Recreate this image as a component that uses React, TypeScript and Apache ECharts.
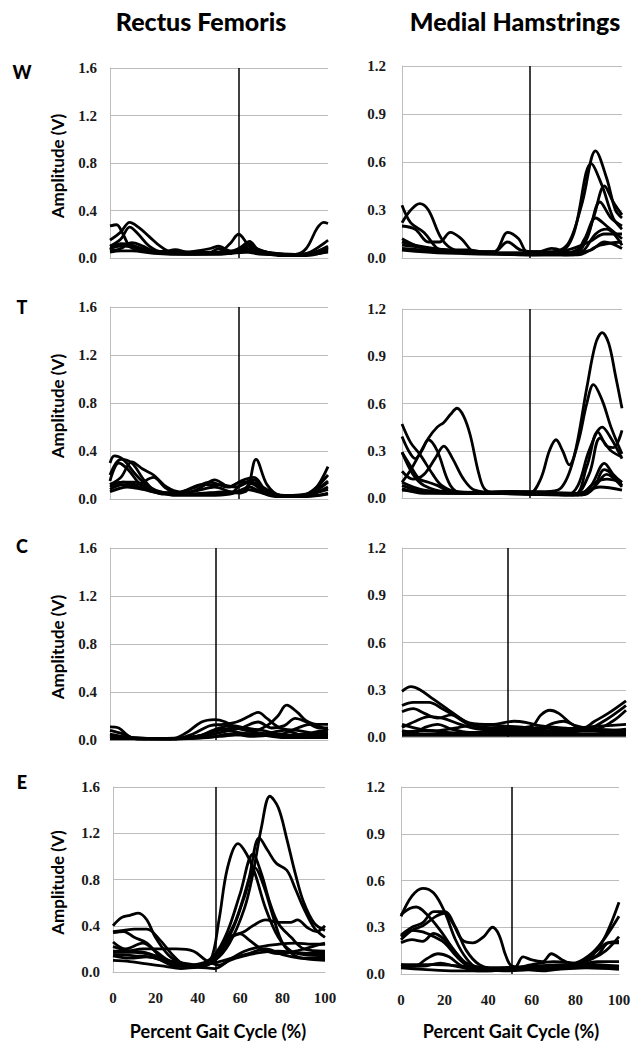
import React, { useEffect, useRef } from "react";
import * as echarts from "echarts";

type Pt = [number, number];

// Column titles, row labels, axis text
const COLUMNS = ["Rectus Femoris", "Medial Hamstrings"];
const ROWS = ["W", "T", "C", "E"];
const Y_NAME = "Amplitude (V)";
const X_NAME = "Percent Gait Cycle (%)";
const X_TICKS = [0, 20, 40, 60, 80, 100];
const RF_TICKS = [0, 0.4, 0.8, 1.2, 1.6];
const MH_TICKS = [0, 0.3, 0.6, 0.9, 1.2];

// Stance / swing divider (% gait cycle) per row
const RF_STANCE = [59, 59, 48.5, 48.6];
const MH_STANCE = [58, 58, 47.4, 50.8];

// ---------- Rectus Femoris ----------
const RF_W: Pt[][] = [
  [[0,0.27],[3,0.28],[6,0.2],[9,0.1],[14,0.06],[25,0.05],[40,0.05],[55,0.05],[62,0.05],[70,0.03],[85,0.03],[90,0.08],[95,0.25],[98,0.3],[100,0.29]],
  [[0,0.15],[5,0.22],[9,0.3],[13,0.26],[18,0.18],[23,0.1],[28,0.05],[40,0.04],[50,0.05],[55,0.12],[59,0.2],[63,0.12],[67,0.05],[75,0.03],[85,0.02],[95,0.05],[100,0.08]],
  [[0,0.1],[5,0.16],[9,0.26],[13,0.2],[18,0.1],[24,0.05],[30,0.07],[35,0.05],[45,0.04],[50,0.08],[55,0.04],[60,0.08],[64,0.12],[68,0.05],[75,0.03],[85,0.02],[92,0.05],[100,0.15]],
  [[0,0.08],[5,0.1],[10,0.1],[15,0.08],[20,0.06],[30,0.05],[45,0.04],[55,0.04],[60,0.06],[64,0.1],[69,0.06],[75,0.04],[85,0.03],[92,0.04],[100,0.1]],
  [[0,0.07],[5,0.12],[10,0.11],[15,0.07],[20,0.05],[30,0.04],[50,0.04],[55,0.05],[60,0.08],[65,0.07],[70,0.04],[80,0.02],[90,0.03],[95,0.05],[100,0.07]],
  [[0,0.05],[5,0.06],[10,0.06],[20,0.04],[35,0.03],[55,0.04],[62,0.05],[66,0.06],[72,0.04],[82,0.02],[92,0.03],[100,0.05]],
  [[0,0.1],[5,0.11],[10,0.09],[15,0.06],[25,0.04],[45,0.03],[55,0.04],[60,0.09],[64,0.14],[68,0.07],[75,0.04],[85,0.03],[95,0.05],[100,0.09]],
  [[0,0.06],[5,0.08],[10,0.13],[15,0.1],[20,0.06],[30,0.05],[35,0.05],[40,0.06],[46,0.08],[50,0.1],[55,0.06],[62,0.06],[66,0.08],[72,0.05],[80,0.02],[90,0.02],[100,0.06]],
];
const RF_T: Pt[][] = [
  [[0,0.3],[2,0.36],[6,0.33],[12,0.2],[18,0.1],[25,0.05],[35,0.04],[45,0.05],[55,0.05],[62,0.06],[67,0.33],[72,0.12],[78,0.03],[88,0.02],[94,0.08],[100,0.27]],
  [[0,0.2],[5,0.33],[10,0.3],[16,0.15],[22,0.06],[35,0.05],[42,0.1],[48,0.16],[55,0.1],[60,0.15],[66,0.18],[72,0.06],[80,0.02],[90,0.04],[100,0.2]],
  [[0,0.12],[5,0.18],[10,0.31],[15,0.25],[20,0.2],[26,0.1],[32,0.06],[42,0.12],[50,0.12],[58,0.1],[64,0.14],[70,0.08],[80,0.03],[92,0.05],[100,0.14]],
  [[0,0.15],[4,0.3],[8,0.25],[14,0.12],[20,0.06],[30,0.05],[40,0.07],[48,0.1],[56,0.06],[60,0.12],[66,0.16],[72,0.05],[82,0.02],[92,0.04],[100,0.1]],
  [[0,0.1],[6,0.14],[12,0.12],[20,0.18],[25,0.1],[30,0.05],[38,0.09],[46,0.14],[54,0.1],[60,0.14],[66,0.12],[72,0.04],[84,0.02],[100,0.08]],
  [[0,0.06],[8,0.1],[15,0.08],[22,0.05],[35,0.04],[50,0.04],[58,0.06],[64,0.1],[70,0.05],[80,0.02],[95,0.03],[100,0.05]],
  [[0,0.08],[6,0.12],[14,0.1],[22,0.06],[30,0.03],[45,0.03],[55,0.04],[62,0.08],[68,0.06],[76,0.02],[90,0.02],[100,0.04]],
  [[0,0.12],[6,0.14],[12,0.14],[18,0.08],[25,0.04],[40,0.04],[52,0.06],[60,0.05],[65,0.14],[70,0.1],[78,0.03],[88,0.03],[96,0.1],[100,0.15]],
];
const RF_C: Pt[][] = [
  [[0,0.11],[4,0.1],[8,0.04],[12,0.01],[28,0.01],[35,0.06],[42,0.15],[48,0.17],[53,0.15],[58,0.1],[65,0.07],[72,0.05],[80,0.04],[90,0.05],[100,0.06]],
  [[0,0.08],[6,0.05],[12,0.01],[30,0.01],[38,0.05],[46,0.12],[52,0.13],[58,0.15],[64,0.2],[68,0.23],[72,0.18],[78,0.1],[86,0.08],[95,0.05],[100,0.04]],
  [[0,0.04],[10,0.02],[30,0.01],[40,0.03],[50,0.08],[58,0.1],[66,0.08],[72,0.12],[77,0.2],[81,0.29],[86,0.23],[90,0.16],[95,0.13],[100,0.13]],
  [[0,0.03],[20,0.01],[40,0.02],[50,0.06],[60,0.1],[68,0.15],[74,0.1],[80,0.12],[85,0.18],[90,0.15],[96,0.1],[100,0.1]],
  [[0,0.05],[10,0.02],[30,0.01],[42,0.04],[50,0.1],[56,0.12],[62,0.1],[70,0.08],[78,0.05],[86,0.1],[92,0.13],[100,0.08]],
  [[0,0.02],[20,0.01],[45,0.02],[55,0.05],[65,0.03],[75,0.04],[85,0.03],[95,0.07],[100,0.08]],
  [[0,0.03],[15,0.01],[40,0.03],[50,0.09],[60,0.06],[70,0.05],[80,0.08],[88,0.04],[100,0.03]],
  [[0,0.01],[30,0.01],[50,0.03],[65,0.05],[80,0.02],[100,0.02]],
];
const RF_E: Pt[][] = [
  [[0,0.15],[10,0.14],[20,0.12],[30,0.05],[40,0.06],[48,0.1],[55,0.25],[62,0.55],[66,0.85],[70,1.25],[74,1.52],[78,1.42],[82,1.15],[86,0.85],[90,0.6],[95,0.42],[100,0.36]],
  [[0,0.22],[8,0.18],[15,0.17],[25,0.1],[35,0.06],[45,0.1],[52,0.25],[58,0.45],[64,0.8],[69,1.16],[73,1.05],[77,0.94],[82,0.88],[86,0.72],[90,0.55],[95,0.38],[100,0.3]],
  [[0,0.17],[10,0.17],[20,0.14],[30,0.08],[40,0.05],[46,0.1],[50,0.45],[54,0.9],[59,1.11],[63,1.02],[67,0.85],[72,0.55],[78,0.3],[84,0.18],[90,0.15],[100,0.14]],
  [[0,0.34],[5,0.35],[10,0.3],[16,0.25],[24,0.1],[30,0.05],[40,0.05],[48,0.15],[54,0.35],[60,0.68],[66,1.02],[70,0.85],[74,0.6],[78,0.42],[84,0.3],[90,0.2],[100,0.18]],
  [[0,0.26],[6,0.2],[14,0.25],[20,0.18],[28,0.08],[38,0.04],[48,0.1],[56,0.35],[62,0.65],[67,0.9],[71,0.75],[76,0.45],[80,0.25],[85,0.15],[90,0.12],[100,0.12]],
  [[0,0.4],[4,0.47],[8,0.49],[12,0.51],[16,0.45],[20,0.3],[26,0.15],[32,0.08],[42,0.05],[50,0.15],[56,0.3],[62,0.35],[66,0.4],[72,0.45],[78,0.43],[84,0.43],[87,0.45],[92,0.38],[96,0.35],[100,0.4]],
  [[0,0.35],[5,0.36],[10,0.37],[16,0.37],[22,0.28],[28,0.15],[34,0.06],[40,0.05],[48,0.12],[55,0.3],[60,0.33],[64,0.28],[70,0.2],[78,0.16],[86,0.18],[94,0.22],[100,0.25]],
  [[0,0.18],[6,0.18],[14,0.2],[22,0.2],[30,0.2],[38,0.18],[44,0.1],[50,0.06],[56,0.12],[62,0.18],[70,0.22],[78,0.24],[86,0.25],[94,0.24],[100,0.24]],
  [[0,0.1],[8,0.09],[16,0.07],[24,0.05],[32,0.03],[40,0.04],[48,0.03],[55,0.1],[62,0.14],[70,0.17],[78,0.18],[86,0.17],[94,0.16],[100,0.16]],
  [[0,0.14],[8,0.12],[16,0.13],[24,0.1],[32,0.08],[40,0.06],[48,0.08],[56,0.12],[64,0.16],[72,0.2],[80,0.15],[88,0.12],[100,0.1]],
];

// ---------- Medial Hamstrings ----------
const MH_W: Pt[][] = [
  [[0,0.06],[20,0.04],[40,0.03],[60,0.03],[70,0.04],[76,0.1],[82,0.35],[88,0.67],[93,0.5],[97,0.3],[100,0.25]],
  [[0,0.08],[20,0.05],[40,0.03],[60,0.03],[72,0.04],[78,0.15],[86,0.59],[91,0.45],[96,0.25],[100,0.18]],
  [[0,0.1],[15,0.05],[40,0.03],[60,0.02],[75,0.03],[82,0.08],[87,0.25],[92,0.45],[96,0.35],[100,0.27]],
  [[0,0.05],[20,0.03],[60,0.02],[78,0.02],[84,0.12],[90,0.35],[95,0.25],[100,0.2]],
  [[0,0.22],[4,0.3],[8,0.34],[12,0.3],[18,0.12],[24,0.05],[40,0.03],[60,0.03],[78,0.03],[83,0.12],[88,0.25],[93,0.2],[100,0.12]],
  [[0,0.33],[4,0.22],[10,0.16],[16,0.06],[20,0.04],[40,0.03],[62,0.03],[75,0.02],[82,0.04],[88,0.15],[93,0.18],[100,0.08]],
  [[0,0.2],[6,0.18],[12,0.1],[17,0.1],[22,0.16],[27,0.12],[33,0.04],[42,0.04],[48,0.16],[53,0.12],[57,0.04],[65,0.04],[75,0.05],[85,0.1],[92,0.15],[100,0.15]],
  [[0,0.1],[10,0.07],[20,0.05],[30,0.04],[42,0.04],[48,0.1],[54,0.05],[62,0.04],[68,0.06],[78,0.03],[86,0.05],[92,0.1],[100,0.06]],
  [[0,0.12],[10,0.06],[20,0.05],[30,0.05],[40,0.03],[60,0.02],[80,0.02],[90,0.08],[100,0.1]],
];
const MH_T: Pt[][] = [
  [[0,0.05],[20,0.03],[40,0.03],[55,0.04],[65,0.04],[72,0.06],[78,0.25],[84,0.7],[88,0.98],[91,1.05],[94,0.98],[97,0.78],[100,0.57]],
  [[0,0.1],[10,0.05],[30,0.03],[50,0.04],[58,0.03],[63,0.12],[67,0.3],[70,0.37],[73,0.3],[76,0.21],[80,0.35],[84,0.6],[87,0.72],[91,0.62],[95,0.45],[100,0.28]],
  [[0,0.08],[10,0.04],[30,0.03],[55,0.03],[75,0.02],[80,0.08],[85,0.3],[91,0.45],[95,0.38],[100,0.25]],
  [[0,0.29],[5,0.15],[10,0.08],[20,0.04],[50,0.03],[78,0.02],[84,0.2],[89,0.42],[93,0.33],[96,0.32],[100,0.43]],
  [[0,0.47],[4,0.35],[8,0.28],[14,0.15],[18,0.08],[25,0.04],[50,0.03],[78,0.02],[85,0.15],[90,0.38],[95,0.3],[100,0.26]],
  [[0,0.39],[3,0.3],[6,0.25],[9,0.3],[12,0.37],[16,0.3],[22,0.08],[28,0.03],[50,0.04],[80,0.02],[86,0.08],[92,0.22],[96,0.15],[100,0.1]],
  [[0,0.1],[4,0.18],[8,0.28],[12,0.38],[16,0.45],[19,0.48],[22,0.53],[25,0.57],[28,0.52],[31,0.4],[35,0.15],[38,0.05],[45,0.03],[60,0.03],[82,0.02],[87,0.06],[92,0.18],[100,0.08]],
  [[0,0.17],[5,0.12],[10,0.15],[15,0.25],[19,0.33],[23,0.25],[28,0.12],[33,0.05],[45,0.03],[82,0.02],[88,0.08],[93,0.15],[100,0.07]],
  [[0,0.29],[4,0.2],[8,0.12],[12,0.1],[16,0.08],[22,0.04],[40,0.03],[80,0.02],[88,0.1],[93,0.12],[100,0.1]],
  [[0,0.06],[10,0.03],[50,0.04],[80,0.03],[90,0.07],[100,0.05]],
];
const MH_C: Pt[][] = [
  [[0,0.29],[4,0.32],[8,0.3],[14,0.24],[20,0.18],[26,0.12],[30,0.09],[40,0.08],[50,0.1],[56,0.09],[62,0.07],[70,0.06],[80,0.05],[86,0.1],[92,0.15],[100,0.23]],
  [[0,0.2],[5,0.22],[12,0.22],[18,0.18],[24,0.13],[30,0.08],[40,0.06],[50,0.06],[58,0.07],[62,0.14],[66,0.17],[70,0.15],[76,0.08],[82,0.05],[90,0.1],[100,0.2]],
  [[0,0.16],[5,0.18],[10,0.15],[16,0.12],[22,0.14],[28,0.1],[35,0.06],[50,0.05],[60,0.05],[68,0.09],[72,0.1],[78,0.07],[86,0.05],[94,0.1],[100,0.17]],
  [[0,0.06],[6,0.1],[12,0.13],[18,0.12],[26,0.08],[34,0.05],[50,0.04],[60,0.06],[70,0.05],[80,0.06],[90,0.07],[100,0.08]],
  [[0,0.04],[6,0.03],[10,0.06],[16,0.08],[22,0.05],[30,0.03],[45,0.03],[60,0.03],[75,0.04],[90,0.04],[100,0.05]],
  [[0,0.02],[20,0.02],[50,0.02],[80,0.02],[100,0.02]],
  [[0,0.08],[8,0.05],[15,0.04],[25,0.06],[35,0.08],[45,0.07],[55,0.06],[65,0.04],[75,0.03],[85,0.05],[100,0.04]],
  [[0,0.03],[10,0.04],[20,0.03],[35,0.02],[50,0.05],[60,0.04],[70,0.02],[85,0.02],[95,0.03],[100,0.03]],
  [[0,0.01],[30,0.01],[60,0.01],[100,0.01]],
];
const MH_E: Pt[][] = [
  [[0,0.37],[5,0.5],[10,0.55],[15,0.52],[20,0.4],[25,0.22],[30,0.1],[35,0.04],[45,0.03],[55,0.03],[65,0.02],[75,0.04],[82,0.06],[88,0.12],[94,0.25],[100,0.46]],
  [[0,0.38],[4,0.42],[7,0.43],[12,0.38],[18,0.28],[24,0.16],[30,0.06],[36,0.03],[50,0.03],[60,0.04],[70,0.05],[80,0.07],[88,0.14],[94,0.24],[100,0.37]],
  [[0,0.25],[5,0.3],[10,0.33],[15,0.4],[20,0.4],[25,0.3],[30,0.15],[36,0.06],[45,0.03],[55,0.03],[70,0.04],[80,0.06],[88,0.1],[94,0.15],[100,0.24]],
  [[0,0.22],[5,0.28],[10,0.31],[16,0.37],[20,0.39],[24,0.32],[28,0.22],[33,0.2],[38,0.24],[42,0.3],[45,0.25],[48,0.12],[51,0.05],[60,0.04],[70,0.04],[80,0.06],[90,0.12],[95,0.2],[100,0.21]],
  [[0,0.24],[5,0.28],[10,0.27],[15,0.24],[20,0.2],[25,0.12],[30,0.06],[40,0.03],[52,0.04],[56,0.11],[60,0.09],[65,0.08],[69,0.13],[74,0.09],[80,0.06],[90,0.08],[100,0.08]],
  [[0,0.2],[5,0.22],[10,0.21],[15,0.26],[20,0.22],[25,0.14],[30,0.07],[40,0.03],[50,0.02],[60,0.03],[70,0.05],[80,0.06],[90,0.15],[95,0.2],[100,0.2]],
  [[0,0.06],[6,0.05],[12,0.1],[17,0.13],[22,0.11],[28,0.05],[35,0.02],[50,0.03],[60,0.06],[70,0.08],[80,0.07],[90,0.06],[100,0.05]],
  [[0,0.05],[10,0.05],[18,0.07],[25,0.05],[35,0.03],[50,0.04],[65,0.05],[80,0.05],[100,0.04]],
  [[0,0.04],[10,0.03],[25,0.02],[40,0.02],[55,0.04],[70,0.03],[85,0.04],[100,0.03]],
  [[0,0.06],[15,0.06],[30,0.05],[45,0.04],[60,0.05],[75,0.06],[90,0.05],[100,0.05]],
];

const RF_DATA = [RF_W, RF_T, RF_C, RF_E];
const MH_DATA = [MH_W, MH_T, MH_C, MH_E];

// Layout (pixel boxes of each plot area), [row][col]
const BOXES = [
  [{ l: 110, t: 68, w: 218, h: 190 }, { l: 402, t: 66, w: 220, h: 192 }],
  [{ l: 110, t: 307, w: 218, h: 192 }, { l: 402, t: 309, w: 220, h: 189 }],
  [{ l: 110, t: 548, w: 218, h: 192 }, { l: 402, t: 548, w: 224, h: 189 }],
  [{ l: 113, t: 787, w: 212, h: 185 }, { l: 401, t: 787, w: 218, h: 187 }],
];
const LETTER_Y = [72, 307, 546, 782];

const SANS = "Lato, 'Open Sans', sans-serif";
const SERIF = "'Liberation Serif', 'DejaVu Serif', serif";

export default function App() {
  const ref = useRef<HTMLDivElement>(null);
  useEffect(() => {
    if (!ref.current) return;
    const chart = echarts.init(ref.current, null, { renderer: "svg" });
    const grids: any[] = [];
    const xAxes: any[] = [];
    const yAxes: any[] = [];
    const series: any[] = [];
    const graphic: any[] = [];

    ROWS.forEach((rowName, r) => {
      [0, 1].forEach((c) => {
        const idx = r * 2 + c;
        const b = BOXES[r][c];
        const ticks = c === 0 ? RF_TICKS : MH_TICKS;
        const data = c === 0 ? RF_DATA[r] : MH_DATA[r];
        const stance = c === 0 ? RF_STANCE[r] : MH_STANCE[r];
        const bottom = r === ROWS.length - 1;
        grids.push({ left: b.l, top: b.t, width: b.w, height: b.h, containLabel: false });
        xAxes.push({
          type: "value",
          gridIndex: idx,
          min: X_TICKS[0],
          max: X_TICKS[X_TICKS.length - 1],
          interval: X_TICKS[1] - X_TICKS[0],
          axisLine: { show: true, lineStyle: { color: "#bdbdbd", width: 1 } },
          axisTick: { show: false },
          splitLine: { show: false },
          axisLabel: {
            show: bottom,
            margin: 18,
            fontFamily: SERIF,
            fontWeight: "bold",
            fontSize: 15,
            color: "#1a1a1a",
          },
        });
        yAxes.push({
          type: "value",
          gridIndex: idx,
          min: ticks[0],
          max: ticks[ticks.length - 1],
          interval: ticks[1] - ticks[0],
          axisLine: { show: true, lineStyle: { color: "#bdbdbd", width: 1 } },
          axisTick: { show: false },
          splitLine: { show: true, lineStyle: { color: "#bdbdbd", width: 1 } },
          axisLabel: {
            margin: c === 0 ? 13 : 16,
            fontFamily: SERIF,
            fontWeight: "bold",
            fontSize: 15,
            color: "#1a1a1a",
            formatter: (v: number) => v.toFixed(1),
          },
        });
        data.forEach((curve, k) => {
          const s: any = {
            type: "line",
            xAxisIndex: idx,
            yAxisIndex: idx,
            data: curve,
            showSymbol: false,
            symbol: "none",
            smooth: 0.35,
            lineStyle: { color: "#000", width: 2.8 },
            z: 3,
          };
          if (k === 0) {
            s.markLine = {
              silent: true,
              symbol: ["none", "none"],
              label: { show: false },
              lineStyle: { color: "#000", width: 1.5, type: "solid" },
              data: [{ xAxis: stance }],
            };
          }
          series.push(s);
        });
      });

      const lb = BOXES[r][0];
      graphic.push({
        type: "text",
        x: 22,
        y: LETTER_Y[r],
        style: { text: rowName, fontFamily: SANS, fontWeight: 900, fontSize: 18, fill: "#000", align: "center", verticalAlign: "middle" },
      });
      graphic.push({
        type: "text",
        x: 57,
        y: lb.t + lb.h / 2 + 3,
        rotation: Math.PI / 2,
        style: { text: Y_NAME, fontFamily: SANS, fontWeight: "bold", fontSize: 17, fill: "#000", align: "center", verticalAlign: "middle" },
      });
    });

    graphic.push({
      type: "text", x: 201, y: 21,
      style: { text: COLUMNS[0], fontFamily: SANS, fontWeight: 900, fontSize: 25, fill: "#000", align: "center", verticalAlign: "middle" },
    });
    graphic.push({
      type: "text", x: 515, y: 21,
      style: { text: COLUMNS[1], fontFamily: SANS, fontWeight: 900, fontSize: 25, fill: "#000", align: "center", verticalAlign: "middle" },
    });
    graphic.push({
      type: "text", x: 218, y: 1031,
      style: { text: X_NAME, fontFamily: SANS, fontWeight: "bold", fontSize: 18, fill: "#000", align: "center", verticalAlign: "middle" },
    });
    graphic.push({
      type: "text", x: 511, y: 1031,
      style: { text: X_NAME, fontFamily: SANS, fontWeight: "bold", fontSize: 18, fill: "#000", align: "center", verticalAlign: "middle" },
    });

    chart.setOption({
      animation: false,
      backgroundColor: "#fff",
      grid: grids,
      xAxis: xAxes,
      yAxis: yAxes,
      series,
      graphic,
    });
    return () => chart.dispose();
  }, []);
  return <div ref={ref} style={{ position: "absolute", left: 0, top: 0, width: 639, height: 1050 }} />;
}
